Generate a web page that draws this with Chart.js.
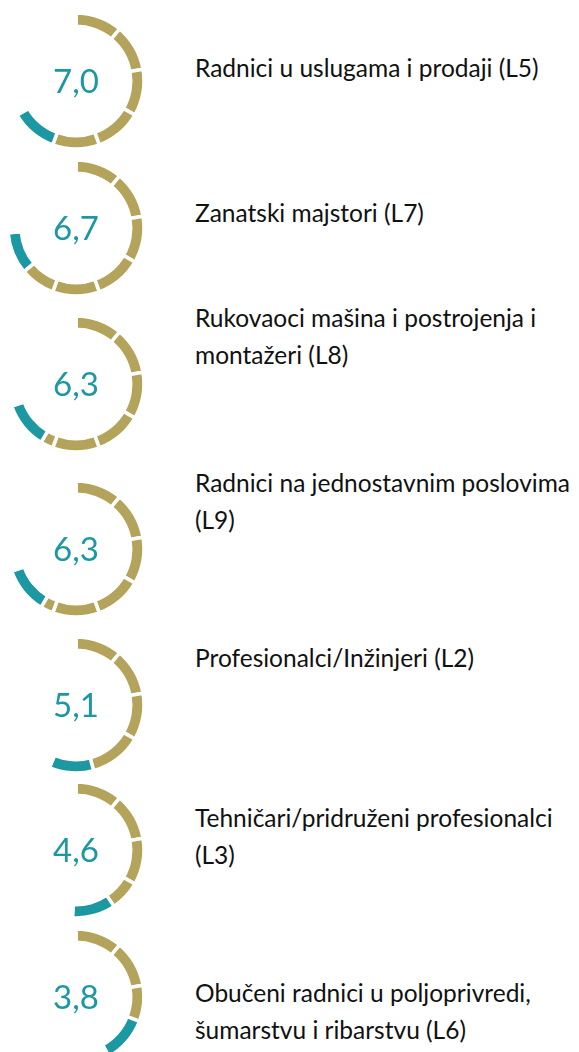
<!DOCTYPE html>
<html>
<head>
<meta charset="utf-8">
<script src="https://cdn.jsdelivr.net/npm/chart.js"></script>
<style>
body { margin: 0; background: #fff; }
#page { position: relative; width: 579px; height: 1052px; overflow: hidden; font-family: Lato, "Open Sans", sans-serif; }
.gauge { position: absolute; width: 150px; height: 150px; }
.label { position: absolute; left: 195px; font-size: 24.5px; line-height: 37px; color: #111; white-space: nowrap; }
</style>
</head>
<body>
<div id="page"></div>
<script>
const scores = [7.0, 6.7, 6.3, 6.3, 5.1, 4.6, 3.8];
const labels = [
  ["Radnici u uslugama i prodaji (L5)"],
  ["Zanatski majstori (L7)"],
  ["Rukovaoci mašina i postrojenja i", "montažeri (L8)"],
  ["Radnici na jednostavnim poslovima", "(L9)"],
  ["Profesionalci/Inžinjeri (L2)"],
  ["Tehničari/pridruženi profesionalci", "(L3)"],
  ["Obučeni radnici u poljoprivredi,", "šumarstvu i ribarstvu (L6)"]
];
// ring pieces in degrees, clockwise from the top
const goldArcs = [
  [40, 40, 40, 40, 40],
  [40, 40, 40, 40, 40, 30],
  [40, 40, 40, 40, 40, 11],
  [40, 40, 40, 40, 40, 11],
  [40, 40, 40, 45],
  [40, 40, 40, 26],
  [40, 40, 31]
];
const tealArcs = [40, 36, 40, 40, 38, 37, 40];

const centers = [[76, 81], [76, 228], [76, 384], [76, 549], [76, 705], [76, 850], [76, 997]];
const labelTops = [49, 194, 299, 464, 639, 799, 974];

const GOLD = '#b4a45b';
const TEAL = '#1b98a1';

const centerText = {
  id: 'centerText',
  afterDraw(chart, args, opts) {
    const ctx = chart.ctx;
    const meta = chart.getDatasetMeta(0).data[0];
    ctx.save();
    ctx.font = '33px Lato, "Open Sans", sans-serif';
    ctx.fillStyle = TEAL;
    ctx.textAlign = 'center';
    ctx.textBaseline = 'middle';
    ctx.fillText(opts.text, meta.x, meta.y + 1);
    ctx.restore();
  }
};

const page = document.getElementById('page');

scores.forEach((s, i) => {
  const box = document.createElement('div');
  box.className = 'gauge';
  box.style.left = (centers[i][0] - 75) + 'px';
  box.style.top = (centers[i][1] - 75) + 'px';
  const canvas = document.createElement('canvas');
  box.appendChild(canvas);
  page.appendChild(box);

  const used = goldArcs[i].reduce((a, b) => a + b, 0) + tealArcs[i];
  const data = [...goldArcs[i], tealArcs[i], 360 - used];
  const colors = [...goldArcs[i].map(() => GOLD), TEAL, 'rgba(0,0,0,0)'];

  new Chart(canvas, {
    type: 'doughnut',
    data: {
      datasets: [{
        data,
        backgroundColor: colors,
        borderColor: '#ffffff',
        borderWidth: 3.5,
        borderAlign: 'center'
      }]
    },
    options: {
      responsive: true,
      maintainAspectRatio: false,
      animation: false,
      radius: 68,
      cutout: '80.5%',
      events: [],
      plugins: {
        legend: { display: false },
        tooltip: { enabled: false },
        centerText: { text: s.toFixed(1).replace('.', ',') }
      }
    },
    plugins: [centerText]
  });

  const lab = document.createElement('div');
  lab.className = 'label';
  lab.style.top = labelTops[i] + 'px';
  lab.innerHTML = labels[i].join('<br>');
  page.appendChild(lab);
});
</script>
</body>
</html>
